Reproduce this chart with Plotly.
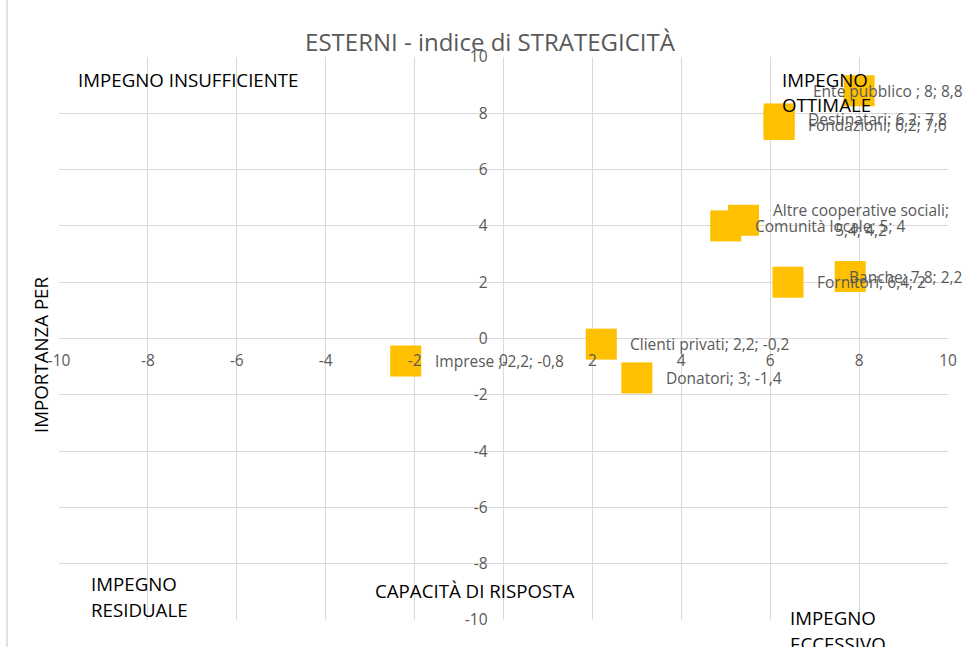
import plotly.graph_objects as go

# ---- data ----
names = ["Ente pubblico ; ", "Destinatari; ", "Fondazioni; ", "Altre cooperative sociali;<br>",
         "Comunità locale; ", "Banche; ", "Fornitori; ", "Clienti privati; ", "Donatori; ", "Imprese ;"]
x_vals = [8, 6.2, 6.2, 5.4, 5, 7.8, 6.4, 2.2, 3, -2.2]
y_vals = [8.8, 7.8, 7.6, 4.2, 4, 2.2, 2, -0.2, -1.4, -0.8]
tick_vals = [-10, -8, -6, -4, -2, 0, 2, 4, 6, 8, 10]
tick_text = ["-10", "-8", "-6", "-4", "-2", "0", "2", "4", "6", "8", "10"]
title_text = "ESTERNI - indice di STRATEGICITÀ"
x_title = "CAPACITÀ DI RISPOSTA"
y_title = "IMPORTANZA PER"

# ---- layout geometry (pixels) ----
W, H = 963, 647
L, R, T, B = 59, 15, 57, 27
PW, PH = W - L - R, H - T - B


def px_x(px):
    return (px - L) / PW


def px_y(py):
    return (H - B - py) / PH


def fmt(v):
    s = ("%g" % v)
    return s.replace(".", ",")


label_shift = {0: -48, 5: -3}
FONT = "Open Sans"
GREY = "#595959"
GRID = "#D9D9D9"
LABEL_SIZE = 15.5
BIG = 18.7

fig = go.Figure()
fig.add_trace(go.Scatter(
    x=x_vals, y=y_vals, mode="markers",
    marker=dict(symbol="square", size=31, color="#FFC000", line=dict(width=0)),
    hoverinfo="skip", showlegend=False,
))

annotations = []
for i, (n, xv, yv) in enumerate(zip(names, x_vals, y_vals)):
    annotations.append(dict(
        x=xv, y=yv, xref="x", yref="y", text=n + fmt(xv) + "; " + fmt(yv),
        showarrow=False, xanchor="left", yanchor="middle", align="center",
        xshift=label_shift.get(i, 27),
        font=dict(family=FONT, size=LABEL_SIZE, color=GREY),
    ))

# quadrant labels (each line separately)
quad = [
    ("IMPEGNO INSUFFICIENTE", 76, 79),
    ("IMPEGNO", 780, 79), ("OTTIMALE", 780, 105),
    ("IMPEGNO", 89, 583), ("RESIDUALE", 89, 609),
    ("IMPEGNO", 788, 617), ("ECCESSIVO", 788, 643),
]
for txt, px, py in quad:
    annotations.append(dict(
        x=px_x(px), y=px_y(py), xref="paper", yref="paper", text=txt,
        showarrow=False, xanchor="left", yanchor="middle",
        font=dict(family=FONT, size=BIG, color="#000000"),
    ))

annotations.append(dict(
    x=px_x(475), y=px_y(590), xref="paper", yref="paper", text=x_title,
    showarrow=False, xanchor="center", yanchor="middle",
    font=dict(family=FONT, size=BIG, color="#000000"),
))
annotations.append(dict(
    x=px_x(40), y=px_y(355), xref="paper", yref="paper", text=y_title,
    showarrow=False, xanchor="center", yanchor="middle", textangle=-90,
    font=dict(family=FONT, size=BIG, color="#000000"),
))

axis_common = dict(
    range=[-10, 10], tickvals=tick_vals, ticktext=tick_text, showgrid=True,
    gridcolor=GRID, gridwidth=1, zeroline=True, zerolinecolor=GRID, zerolinewidth=1,
    showline=False, anchor="free", position=0.5, ticks="", automargin=False,
    tickfont=dict(family=FONT, size=LABEL_SIZE, color=GREY),
)

fig.update_layout(
    width=W, height=H,
    margin=dict(l=L, r=R, t=T, b=B, autoexpand=False),
    paper_bgcolor="white", plot_bgcolor="white",
    title=dict(text=title_text, x=490 / W, xanchor="center", y=1 - 43 / H, yanchor="middle",
               yref="container", xref="container",
               font=dict(family=FONT, size=24, color=GREY)),
    xaxis=dict(axis_common, ticklabelstandoff=11),
    yaxis=dict(axis_common, ticklabelstandoff=16),
    annotations=annotations,
    shapes=[dict(type="line", xref="paper", yref="paper",
                 x0=px_x(7), x1=px_x(7), y0=px_y(H), y1=px_y(0),
                 line=dict(color=GRID, width=1.5))],
)

fig.write_html("out.html", config={"displayModeBar": False},
               post_script="document.body.style.margin='0';document.body.style.padding='0';")
